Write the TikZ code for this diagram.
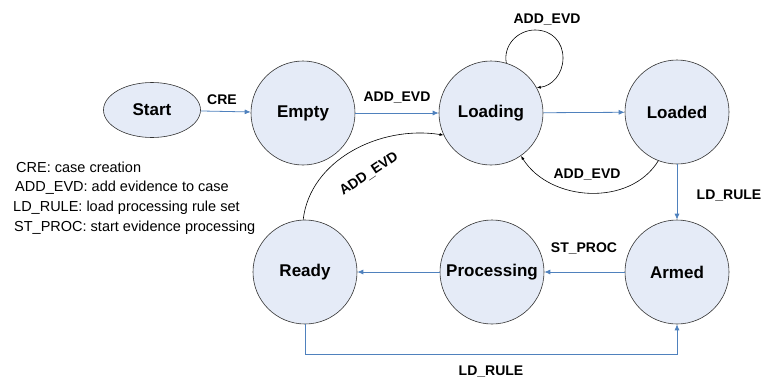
\documentclass[tikz,border=0pt]{standalone}
\usepackage{fontspec}
\setmainfont{Liberation Sans}
\usetikzlibrary{shapes.geometric,arrows.meta}
\definecolor{statefill}{RGB}{229,235,247}
\definecolor{flowblue}{RGB}{79,129,189}
\tikzset{
  state/.style={circle,draw=black!80,line width=0.6pt,fill=statefill,minimum size=104pt,inner sep=0pt,font=\bfseries\fontsize{17}{19}\selectfont},
  startstate/.style={ellipse,draw=black!80,line width=0.6pt,fill=statefill,minimum width=97pt,minimum height=55pt,inner sep=0pt,font=\bfseries\fontsize{17}{19}\selectfont},
  main/.style={draw=flowblue,line width=0.8pt,-{Latex[length=6pt,width=5pt]}},
  back/.style={draw=black,line width=0.6pt,-{Latex[length=4pt,width=3pt]}},
  elabel/.style={font=\bfseries\fontsize{14}{16}\selectfont,inner sep=0pt},
  legend/.style={font=\fontsize{14.5}{16}\selectfont,anchor=west,inner sep=0pt}
}
\begin{document}
\begin{tikzpicture}[x=1pt,y=-1pt]
\useasboundingbox (0,0) rectangle (763,378);
% states
\node[startstate] (start) at (152,110) {Start};
\node[state] (empty) at (303,113) {Empty};
\node[state] (loading) at (491,113) {Loading};
\node[state] (loaded) at (677,112) {Loaded};
\node[state] (armed) at (677,272) {Armed};
\node[state] (proc) at (492,272) {Processing};
\node[state] (ready) at (305,272) {Ready};
% forward transitions
\draw[main] (start) -- (empty);
\node[elabel] (lcre) at (222,100) {CRE};
\draw[main] (empty) -- (loading);
\node[elabel] (lempty) at (397,98) {ADD\_EVD};
\draw[main] (loading) -- (loaded);
\draw[main] (loaded) -- (armed);
\node[elabel] (lrule) at (729,196) {LD\_RULE};
\draw[main] (armed) -- (proc);
\node[elabel] (lproc) at (584,248) {ST\_PROC};
\draw[main] (proc) -- (ready);
\coordinate (rb) at (305,354);
\coordinate (ab) at (677,354);
\draw[main] (ready.south) -- (rb) -- (ab) -- (armed.south);
\node[elabel] (lrule2) at (491,372) {LD\_RULE};
% evidence added again: loop on Loading
\coordinate (looptop) at (535,30);
\coordinate (loopright) at (563,58);
\draw[back] (loading.73) .. controls (503,45) and (518,30) .. (looptop)
  .. controls (552,30) and (563,42) .. (loopright)
  .. controls (563,74) and (552,86) .. (loading.29);
\node[elabel] (lself) at (547,20) {ADD\_EVD};
\draw[back] (loaded.-111) .. controls (630,207) and (550,202) .. (loading.-55);
\node[elabel] (lback) at (587,175) {ADD\_EVD};
\draw[back] (ready.92) .. controls (310,160) and (380,125) .. (loading.-155);
\node[elabel,rotate=34] (lready) at (369,174) {ADD\_EVD};
% legend
\node[legend] (l1) at (16,167) {CRE: case creation};
\node[legend] (l2) at (15,188) {ADD\_EVD: add evidence to case};
\node[legend] (l3) at (13,208) {LD\_RULE: load processing rule set};
\node[legend] (l4) at (14,228) {ST\_PROC: start evidence processing};
\end{tikzpicture}
\end{document}
